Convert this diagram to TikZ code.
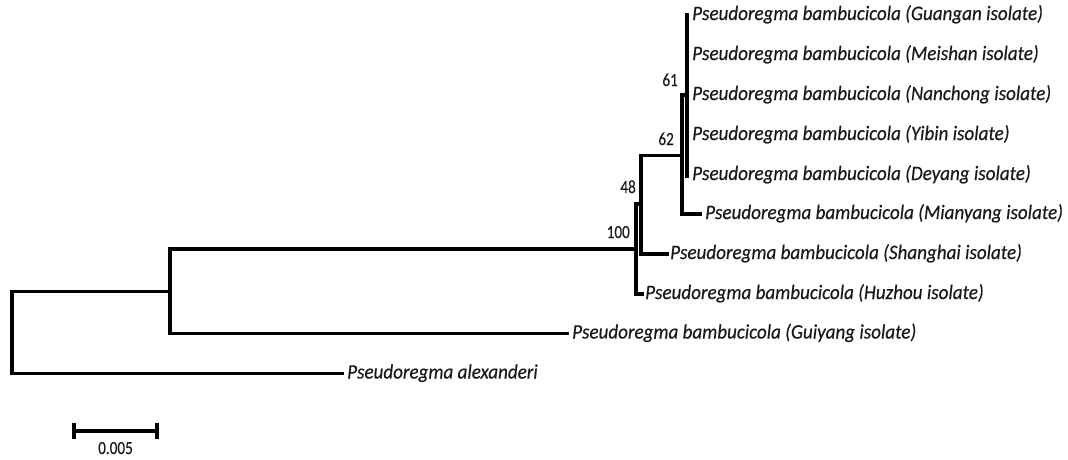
\documentclass[tikz,border=0pt]{standalone}
\usepackage{fontspec}
\setmainfont{Carlito}
\newfontfamily\treefont[FakeStretch=0.93,FakeBold=0.35]{Carlito}
\newfontfamily\numfont[FakeStretch=0.82,FakeBold=0.3]{Carlito}
\begin{document}
\begin{tikzpicture}[x=1pt,y=-1pt,
  branch/.style={line width=3.2pt, line cap=rect, line join=miter, black},
  leaf/.style={anchor=base west, inner sep=0pt, font=\treefont\fontsize{20.5}{20.5}\selectfont\itshape, text=black!90},
  boot/.style={anchor=base east, inner sep=0pt, font=\numfont\fontsize{18.5}{18.5}\selectfont, text=black!90},
  scalebar/.style={line width=3.2pt, black}]
\useasboundingbox[fill=white] (0,0) rectangle (1068,459);
% internal nodes
\coordinate (root) at (12,332.5);
\coordinate (n1) at (170,291.5);
\coordinate (n100) at (636,249);
\coordinate (n48) at (641,204);
\coordinate (n62) at (682,155.5);
\coordinate (n61) at (687,95);
% tips
\coordinate (tGuangan) at (687,15);
\coordinate (tMeishan) at (687,55);
\coordinate (tNanchong) at (687,95);
\coordinate (tYibin) at (687,135);
\coordinate (tDeyang) at (687,176);
\coordinate (tMianyang) at (700,214);
\coordinate (tShanghai) at (667,254);
\coordinate (tHuzhou) at (642,294);
\coordinate (tGuiyang) at (567,333.5);
\coordinate (tAlex) at (342,373.5);
% branches
\draw[branch] (root) |- (n1);
\draw[branch] (root) |- (tAlex);
\draw[branch] (n1) |- (n100);
\draw[branch] (n1) |- (tGuiyang);
\draw[branch] (n100) |- (n48);
\draw[branch] (n100) |- (tHuzhou);
\draw[branch] (n48) |- (n62);
\draw[branch] (n48) |- (tShanghai);
\draw[branch] (n62) |- (n61);
\draw[branch] (n62) |- (tMianyang);
\draw[branch] (n61) -- (tGuangan);
\draw[branch] (n61) -- (tDeyang);
% leaf labels
\node[leaf] (lGuangan) at (692,20) {Pseudoregma bambucicola (Guangan isolate)};
\node[leaf] (lMeishan) at (692,60) {Pseudoregma bambucicola (Meishan isolate)};
\node[leaf] (lNanchong) at (692,100) {Pseudoregma bambucicola (Nanchong isolate)};
\node[leaf] (lYibin) at (692,140) {Pseudoregma bambucicola (Yibin isolate)};
\node[leaf] (lDeyang) at (692,180) {Pseudoregma bambucicola (Deyang isolate)};
\node[leaf] (lMianyang) at (705,219) {Pseudoregma bambucicola (Mianyang isolate)};
\node[leaf] (lShanghai) at (670,259) {Pseudoregma bambucicola (Shanghai isolate)};
\node[leaf] (lHuzhou) at (645,299) {Pseudoregma bambucicola (Huzhou isolate)};
\node[leaf] (lGuiyang) at (572,338.5) {Pseudoregma bambucicola (Guiyang isolate)};
\node[leaf] (lAlex) at (347,378.5) {Pseudoregma alexanderi};
% bootstrap values
\node[boot] (b61) at (678,86) {61};
\node[boot] (b62) at (674,145) {62};
\node[boot] (b48) at (636,193) {48};
\node[boot] (b100) at (630,238) {100};
% scale bar
\coordinate (sA) at (74,431);
\coordinate (sB) at (157,431);
\draw[scalebar] (sA) -- (sB);
\draw[scalebar] ([yshift=-8]sA) -- ([yshift=8]sA);
\draw[scalebar] ([yshift=-8]sB) -- ([yshift=8]sB);
\node[anchor=base, inner sep=0pt, font=\numfont\fontsize{18.5}{18.5}\selectfont, text=black!90] (sLabel) at (115.5,454) {0.005};
\end{tikzpicture}
\end{document}
